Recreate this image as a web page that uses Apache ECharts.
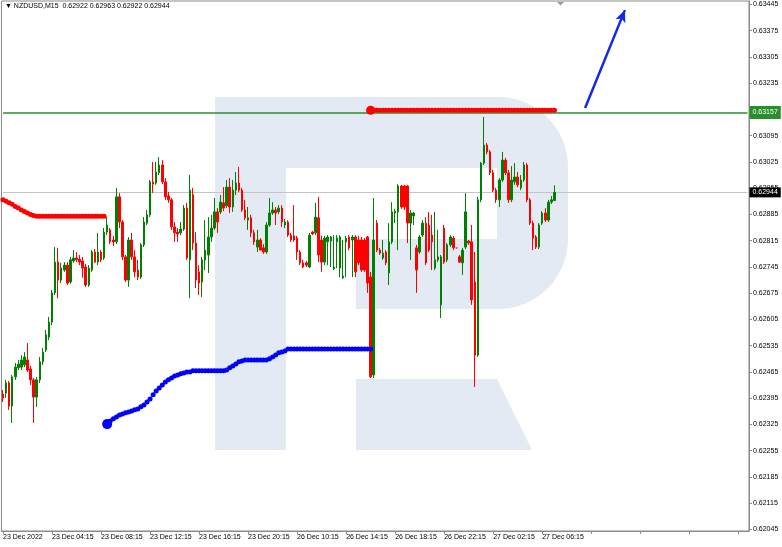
<!DOCTYPE html>
<html><head><meta charset="utf-8">
<script src="https://cdn.jsdelivr.net/npm/echarts@6/dist/echarts.min.js"></script>
<style>html,body{margin:0;padding:0;background:#fff}#c{width:782px;height:547px}</style>
</head><body><div id="c"></div>
<script>
const symbolName = 'NZDUSD,M15';
const tickLabels = ['23 Dec 2022','23 Dec 04:15','23 Dec 08:15','23 Dec 12:15','23 Dec 16:15','23 Dec 20:15','26 Dec 10:15','26 Dec 14:15','26 Dec 18:15','26 Dec 22:15','27 Dec 02:15','27 Dec 06:15'];
const tickEvery = 16;
const slotCount = 244;
const yTicks = [0.62045,0.62115,0.62185,0.62255,0.62325,0.62395,0.62465,0.62535,0.62605,0.62675,0.62745,0.62815,0.62885,0.62955,0.63025,0.63095,0.63165,0.63235,0.63305,0.63375,0.63445];

const opens = [0.62406,0.62409,0.62436,0.62374,0.62452,0.62476,0.62478,0.62484,0.62497,0.62473,
0.62444,0.62398,0.62444,0.62492,0.62524,0.62558,0.62598,0.62676,0.62758,0.62710,
0.62737,0.62750,0.62705,0.62761,0.62769,0.62766,0.62761,0.62745,0.62697,0.62737,
0.62785,0.62758,0.62785,0.62769,0.62838,0.62844,0.62817,0.62812,0.62932,0.62865,
0.62772,0.62710,0.62817,0.62772,0.62737,0.62718,0.62804,0.62862,0.62884,0.62972,
0.62969,0.62996,0.63017,0.62972,0.62934,0.62924,0.62852,0.62838,0.62836,0.62846,
0.62902,0.62764,0.62937,0.62809,0.62732,0.62705,0.62764,0.62777,0.62825,0.62849,
0.62892,0.62892,0.62916,0.62908,0.62958,0.62905,0.62950,0.62969,0.62950,0.62897,
0.62870,0.62876,0.62836,0.62798,0.62817,0.62796,0.62785,0.62857,0.62889,0.62897,
0.62892,0.62902,0.62857,0.62865,0.62830,0.62828,0.62822,0.62785,0.62756,0.62756,
0.62745,0.62838,0.62836,0.62876,0.62817,0.62758,0.62812,0.62814,0.62740,0.62812,
0.62742,0.62716,0.62812,0.62825,0.62817,0.62825,0.62817,0.62817,0.62817,0.62825,
0.62718,0.62457,0.62862,0.62790,0.62769,0.62785,0.62729,0.62812,0.62889,0.62892,
0.62961,0.62961,0.62961,0.62862,0.62881,0.62796,0.62785,0.62830,0.62862,0.62857,
0.62830,0.62742,0.62764,0.62644,0.62849,0.62764,0.62804,0.62822,0.62796,0.62772,
0.62756,0.62798,0.62814,0.62812,0.62705,0.62510,0.62924,0.63022,0.63070,0.63052,
0.62996,0.62950,0.62924,0.62977,0.63030,0.62996,0.62924,0.62972,0.62985,0.62956,
0.62977,0.63017,0.62924,0.62862,0.62825,0.62798,0.62862,0.62889,0.62870,0.62918,
0.62922];
const highs = [0.62417,0.62444,0.62441,0.62457,0.62489,0.62497,0.62510,0.62518,0.62542,0.62481,
0.62449,0.62452,0.62505,0.62529,0.62577,0.62612,0.62684,0.62798,0.62796,0.62756,
0.62758,0.62758,0.62772,0.62790,0.62785,0.62777,0.62772,0.62753,0.62750,0.62790,
0.62793,0.62836,0.62790,0.62849,0.62878,0.62849,0.62828,0.62956,0.62942,0.62870,
0.62777,0.62825,0.62836,0.62790,0.62764,0.62809,0.62878,0.62897,0.62977,0.63025,
0.63025,0.63038,0.63030,0.62982,0.62945,0.62929,0.62865,0.62849,0.62865,0.62910,
0.62916,0.62990,0.62956,0.62838,0.62750,0.62772,0.62870,0.62878,0.62884,0.62929,
0.62902,0.62937,0.62958,0.62977,0.62982,0.62977,0.62998,0.63012,0.62956,0.62924,
0.62905,0.62884,0.62844,0.62844,0.62822,0.62806,0.62865,0.62929,0.62918,0.62905,
0.62910,0.62910,0.62873,0.62870,0.62836,0.62910,0.62828,0.62790,0.62764,0.62761,
0.62836,0.62841,0.62916,0.62932,0.62828,0.62828,0.62830,0.62828,0.62830,0.62830,
0.62830,0.62817,0.62828,0.62830,0.62830,0.62830,0.62828,0.62825,0.62822,0.62828,
0.62732,0.62929,0.62870,0.62796,0.62817,0.62790,0.62862,0.62918,0.62900,0.62966,
0.62964,0.62964,0.62964,0.62897,0.62892,0.62804,0.62830,0.62870,0.62878,0.62892,
0.62884,0.62892,0.62844,0.62777,0.62857,0.62809,0.62830,0.62828,0.62798,0.62777,
0.62796,0.62942,0.62817,0.62857,0.62785,0.62932,0.63025,0.63145,0.63076,0.63057,
0.63004,0.62956,0.62982,0.63052,0.63036,0.63004,0.63014,0.63022,0.62998,0.62990,
0.63025,0.63022,0.62929,0.62868,0.62830,0.62862,0.62894,0.62902,0.62924,0.62934,
0.62963];
const lows = [0.62385,0.62396,0.62364,0.62329,0.62444,0.62470,0.62470,0.62478,0.62465,0.62430,
0.62329,0.62372,0.62436,0.62484,0.62518,0.62550,0.62590,0.62670,0.62662,0.62702,
0.62732,0.62697,0.62700,0.62756,0.62758,0.62750,0.62716,0.62692,0.62692,0.62732,
0.62756,0.62750,0.62758,0.62764,0.62830,0.62806,0.62801,0.62806,0.62849,0.62764,
0.62705,0.62692,0.62764,0.62718,0.62710,0.62713,0.62798,0.62857,0.62878,0.62942,
0.62964,0.62990,0.62966,0.62924,0.62916,0.62844,0.62812,0.62812,0.62830,0.62841,
0.62764,0.62662,0.62790,0.62689,0.62670,0.62665,0.62737,0.62729,0.62812,0.62844,
0.62836,0.62886,0.62894,0.62902,0.62889,0.62892,0.62937,0.62945,0.62892,0.62870,
0.62844,0.62825,0.62804,0.62785,0.62790,0.62780,0.62780,0.62852,0.62884,0.62857,
0.62886,0.62852,0.62849,0.62825,0.62812,0.62812,0.62764,0.62750,0.62742,0.62745,
0.62742,0.62830,0.62830,0.62758,0.62732,0.62750,0.62750,0.62745,0.62737,0.62742,
0.62718,0.62713,0.62718,0.62790,0.62718,0.62718,0.62750,0.62732,0.62732,0.62676,
0.62449,0.62449,0.62785,0.62777,0.62764,0.62750,0.62697,0.62806,0.62862,0.62790,
0.62900,0.62897,0.62809,0.62764,0.62857,0.62676,0.62780,0.62825,0.62750,0.62785,
0.62737,0.62737,0.62758,0.62609,0.62753,0.62758,0.62798,0.62790,0.62793,0.62756,
0.62724,0.62793,0.62804,0.62644,0.62425,0.62505,0.62918,0.63017,0.63046,0.62990,
0.62945,0.62916,0.62905,0.62972,0.62990,0.62916,0.62918,0.62964,0.62958,0.62950,
0.62972,0.62918,0.62857,0.62790,0.62793,0.62793,0.62857,0.62865,0.62865,0.62913,
0.62922];
const closes = [0.62396,0.62436,0.62374,0.62452,0.62478,0.62486,0.62497,0.62505,0.62470,0.62444,
0.62398,0.62444,0.62492,0.62518,0.62564,0.62598,0.62676,0.62758,0.62710,0.62742,
0.62750,0.62702,0.62764,0.62769,0.62764,0.62758,0.62742,0.62697,0.62742,0.62785,
0.62758,0.62785,0.62764,0.62838,0.62857,0.62812,0.62812,0.62932,0.62865,0.62772,
0.62710,0.62817,0.62772,0.62732,0.62718,0.62804,0.62865,0.62884,0.62972,0.62966,
0.62998,0.63017,0.62972,0.62932,0.62924,0.62852,0.62836,0.62833,0.62846,0.62902,
0.62769,0.62950,0.62809,0.62710,0.62702,0.62764,0.62790,0.62825,0.62849,0.62892,
0.62865,0.62918,0.62902,0.62958,0.62905,0.62950,0.62969,0.62950,0.62897,0.62876,
0.62876,0.62836,0.62812,0.62817,0.62790,0.62785,0.62857,0.62889,0.62897,0.62889,
0.62902,0.62865,0.62865,0.62830,0.62817,0.62817,0.62785,0.62756,0.62745,0.62750,
0.62830,0.62833,0.62878,0.62777,0.62758,0.62822,0.62825,0.62825,0.62745,0.62822,
0.62825,0.62721,0.62822,0.62796,0.62825,0.62732,0.62756,0.62737,0.62737,0.62702,
0.62452,0.62817,0.62790,0.62782,0.62782,0.62756,0.62812,0.62892,0.62894,0.62961,
0.62905,0.62905,0.62862,0.62889,0.62889,0.62737,0.62825,0.62862,0.62756,0.62790,
0.62812,0.62764,0.62772,0.62772,0.62758,0.62804,0.62825,0.62796,0.62796,0.62758,
0.62790,0.62892,0.62809,0.62657,0.62510,0.62924,0.63022,0.63070,0.63052,0.62996,
0.62950,0.62924,0.62977,0.63030,0.62996,0.62924,0.62977,0.62985,0.62964,0.62977,
0.63017,0.62924,0.62862,0.62822,0.62798,0.62857,0.62889,0.62870,0.62918,0.62924,
0.62944];

// indicator dots (start bar index + values)
const redBandStart = 0;
const redBand = [0.62924,0.62920,0.62916,0.62912,0.62906,0.62902,0.62897,0.62893,0.62889,0.62885,
0.62882,0.62880,0.62880,0.62880,0.62880,0.62880,0.62880,0.62880,0.62880,0.62880,
0.62880,0.62880,0.62880,0.62880,0.62880,0.62880,0.62880,0.62880,0.62880,0.62880,
0.62880,0.62880,0.62880,0.62880];
const blueStart = 34;
const blueBand = [0.62326,0.62334,0.62340,0.62345,0.62350,0.62353,0.62356,0.62358,0.62361,0.62364,
0.62366,0.62372,0.62377,0.62385,0.62393,0.62404,0.62414,0.62422,0.62430,0.62438,
0.62444,0.62449,0.62454,0.62457,0.62460,0.62462,0.62465,0.62465,
0.62468,0.62468,0.62468,0.62468,0.62468,0.62468,0.62468,0.62468,0.62468,0.62468,0.62468,
0.62470,0.62476,0.62481,0.62486,0.62492,0.62494,
0.62497,0.62497,0.62497,0.62497,0.62497,0.62497,0.62497,0.62497,
0.62500,0.62505,0.62510,0.62516,0.62518,0.62521,
0.62526,0.62526,0.62526,0.62526,0.62526,0.62526,0.62526,0.62526,0.62526,0.62526,
0.62526,0.62526,0.62526,0.62526,0.62526,0.62526,0.62526,0.62526,0.62526,0.62526,
0.62526,0.62526,0.62526,0.62526,0.62526,0.62526,0.62526,0.62526];
const levelStart = 120;
const levelBand = [0.63163,0.63163,0.63163,0.63163,0.63163,0.63163,0.63163,0.63163,0.63163,0.63163,
0.63163,0.63163,0.63163,0.63163,0.63163,0.63163,0.63163,0.63163,0.63163,0.63163,
0.63163,0.63163,0.63163,0.63163,0.63163,0.63163,0.63163,0.63163,0.63163,0.63163,
0.63163,0.63163,0.63163,0.63163,0.63163,0.63163,0.63163,0.63163,0.63163,0.63163,
0.63163,0.63163,0.63163,0.63163,0.63163,0.63163,0.63163,0.63163,0.63163,0.63163,
0.63163,0.63163,0.63163,0.63163,0.63163,0.63163,0.63163,0.63163,0.63163,0.63163,
0.63163];
const levelPrice = 0.63157;
const lastPrice = 0.62944;
const arrowFrom = [190, 0.63169];
const arrowTo = [203, 0.63430];

const F = '"Liberation Sans", Arial, sans-serif';
const cats = Array.from({length: slotCount}, (_, i) => i);
const candleData = opens.map((o, i) => [o, closes[i], lows[i], highs[i]]);
const toPts = (start, arr) => arr.map((v, k) => [start + k, v]);
const L = opens.length - 1;
const titleText = '\u25BC ' + symbolName + '  ' + [opens[L], highs[L], lows[L], closes[L]].map(v => v.toFixed(5)).join(' ');
const WM = '#e4eaf3';
const mkH = (price, color, width, labelBg, pad) => ([
  {coord: [0, price],
   lineStyle: {color: color, width: width, type: 'solid'},
   label: {show: true, position: 'end', distance: 2, formatter: price.toFixed(5), color: '#fff',
     backgroundColor: labelBg, padding: pad, fontSize: 7, fontFamily: F}},
  {coord: [slotCount - 1, price]}
]);

const chart = echarts.init(document.getElementById('c'), null, {renderer: 'canvas'});
chart.setOption({
  animation: false,
  backgroundColor: '#ffffff',
  textStyle: {fontFamily: F},
  title: {text: titleText, left: 5, top: 3, padding: 0,
    textStyle: {fontSize: 7, fontWeight: 'normal', color: '#000', fontFamily: F}},
  grid: {left: 1, right: 33, top: 1, bottom: 16, show: true, borderColor: '#8a8a8a', borderWidth: 1, backgroundColor: 'transparent'},
  xAxis: {
    type: 'category', data: cats, boundaryGap: true,
    axisLine: {show: true, lineStyle: {color: '#8a8a8a'}},
    axisTick: {show: true, alignWithLabel: true, length: 3, interval: (i) => i % tickEvery === 0, lineStyle: {color: '#8a8a8a'}},
    axisLabel: {interval: (i) => i % tickEvery === 0, formatter: (v, i) => tickLabels[i / tickEvery] || '',
      align: 'left', margin: 3, fontSize: 7, color: '#000', fontFamily: F},
    splitLine: {show: false}
  },
  yAxis: {
    type: 'value', position: 'right', min: 0.62041, max: 0.634543,
    axisLine: {show: true, lineStyle: {color: '#8a8a8a'}},
    axisTick: {show: true, customValues: yTicks, length: 3, lineStyle: {color: '#8a8a8a'}},
    axisLabel: {customValues: yTicks, formatter: (v) => v.toFixed(5), margin: 4, fontSize: 7, color: '#000', fontFamily: F},
    splitLine: {show: false}
  },
  graphic: [
    {type: 'rect', z: 0, z2: 0, silent: true, shape: {x: 215, y: 97, width: 71, height: 353}, style: {fill: WM}},
    {type: 'rect', z: 0, z2: 0, silent: true, shape: {x: 285, y: 97, width: 213, height: 71}, style: {fill: WM}},
    {type: 'rect', z: 0, z2: 0, silent: true, shape: {x: 497, y: 97, width: 71, height: 212, r: [0, 70, 70, 0]}, style: {fill: WM}},
    {type: 'rect', z: 0, z2: 0, silent: true, shape: {x: 356, y: 239, width: 142, height: 70}, style: {fill: WM}},
    {type: 'polygon', z: 0, z2: 0, silent: true, shape: {points: [[356, 379], [497, 379], [532, 450], [356, 450]]}, style: {fill: WM}},
    {type: 'polygon', z: 5, silent: true, shape: {points: [[557, 2], [564, 2], [560.5, 5.5]]}, style: {fill: '#9a9a9a'}}
  ],
  series: [
    {
      type: 'scatter', name: 'levels', data: [[L, closes[L]]], z: 1, symbolSize: 0, silent: true,
      itemStyle: {opacity: 0},
      markLine: {
        silent: true, symbol: ['none', 'none'], animation: false, z: 1,
        data: [
          mkH(levelPrice, '#2a8f2a', 1.6, '#2a8f2a', [4, 3, 2, 3]),
          mkH(lastPrice, '#c4c4c4', 1, '#000000', [2, 3, 1, 3])
        ]
      }
    },
    {
      type: 'candlestick', name: symbolName, data: candleData, z: 2, barWidth: 2, silent: true,
      itemStyle: {color: '#008000', color0: '#ff0000', borderColor: '#008000', borderColor0: '#ff0000', borderColorDoji: '#808080', borderWidth: 1}
    },
    {type: 'scatter', data: toPts(redBandStart, redBand), z: 3, symbolSize: 5, silent: true, itemStyle: {color: '#ff0000', opacity: 1}},
    {type: 'scatter', data: toPts(blueStart, blueBand), z: 3, symbolSize: 5, silent: true, itemStyle: {color: '#0000ff', opacity: 1}},
    {type: 'scatter', data: [[blueStart, blueBand[0]]], z: 4, symbolSize: 10, silent: true, itemStyle: {color: '#0000ff', opacity: 1}},
    {type: 'scatter', data: [[levelStart, levelBand[0]]], z: 4, symbolSize: 9, silent: true, itemStyle: {color: '#ff0000', opacity: 1}},
    {type: 'scatter', data: toPts(levelStart, levelBand), z: 3, symbolSize: 5, silent: true, itemStyle: {color: '#ff0000', opacity: 1},
      markLine: {
        silent: true, animation: false, z: 5, symbol: ['none', 'arrow'], symbolSize: [8, 12],
        lineStyle: {color: '#1428e6', width: 2.5, type: 'solid'},
        label: {show: false},
        data: [[{coord: arrowFrom}, {coord: arrowTo}]]
      }
    }
  ]
});
</script></body></html>
